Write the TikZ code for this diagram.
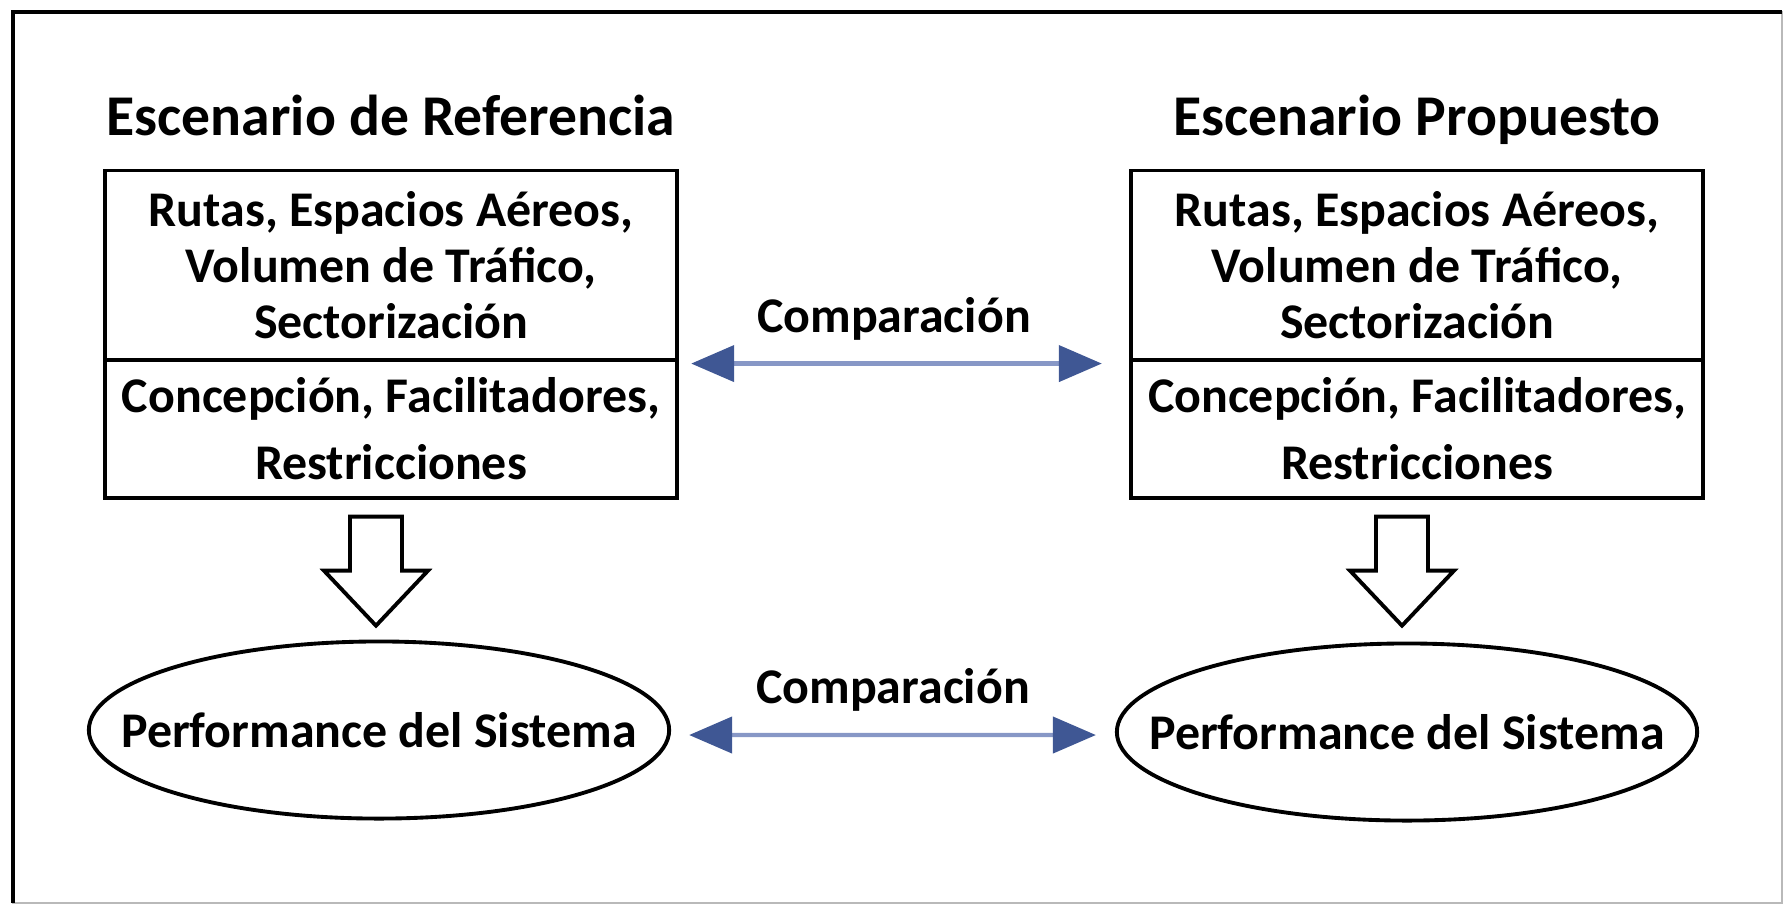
\documentclass[tikz,border=0pt]{standalone}
\usepackage{fontspec}
\setmainfont{Carlito}
\usetikzlibrary{positioning,shapes.geometric,arrows.meta}
\definecolor{cmpblue}{HTML}{3F5794}
\definecolor{cmpline}{HTML}{8797C6}

\begin{document}
\begin{tikzpicture}[x=0.01cm,y=-0.01cm,
	txt/.style={font=\bfseries\fontsize{14.2}{16}\selectfont},
	head/.style={font=\bfseries\fontsize{16.4}{19}\selectfont,anchor=base},
	part/.style={draw,line width=1.1pt,outer sep=0pt,minimum width=5.72cm,align=center,txt},
	perf/.style={draw,ellipse,line width=1.1pt,inner xsep=-1cm,inner ysep=0pt,minimum width=5.8cm,minimum height=1.77cm,txt},
	blk/.style={draw,line width=1.1pt,fill=white,line join=miter},
	cmp/.style={draw=cmpline,line width=1.2pt,
		{Triangle[length=0.43cm,width=0.36cm,color=cmpblue]}-{Triangle[length=0.43cm,width=0.36cm,color=cmpblue]}}]
	\useasboundingbox (0,0) rectangle (1786,905);
	% frame
	\coordinate (tl) at (13,12);
	\coordinate (br) at (1782,903);
	\draw[gray!55,line width=0.4pt] (tl) rectangle (br);
	\draw[line width=0.9pt] (tl |- br) -- (tl) -- (tl -| br);

	% reference scenario
	\node[part,minimum height=1.89cm] (refrutas) at (391,265) {Rutas, Espacios Aéreos,\\Volumen de Tráfico,\\Sectorización};
	\node[part,minimum height=1.38cm,font=\bfseries\fontsize{14.2}{19}\selectfont,below=0pt of refrutas] (refconc) {Concepción, Facilitadores,\\Restricciones};
	\node[head] (refhead) at ([yshift=0.35cm]refrutas.north) {Escenario de Referencia};
	\node[perf] (refperf) at (379,730) {Performance del Sistema};

	% proposed scenario
	\node[part,minimum height=1.89cm] (proprutas) at (1417,265) {Rutas, Espacios Aéreos,\\Volumen de Tráfico,\\Sectorización};
	\node[part,minimum height=1.38cm,font=\bfseries\fontsize{14.2}{19}\selectfont,below=0pt of proprutas] (propconc) {Concepción, Facilitadores,\\Restricciones};
	\node[head] (prophead) at ([yshift=0.35cm]proprutas.north) {Escenario Propuesto};
	\node[perf] (propperf) at (1407,732) {Performance del Sistema};

	% block arrows
	\draw[blk] ([xshift=-0.15cm,yshift=-0.19cm]refconc.south) ++(-26,0) -- ++(52,0) -- ++(0,54) -- ++(26,0)
		-- ++(-52,55) -- ++(-52,-55) -- ++(26,0) -- cycle;
	\draw[blk] ([xshift=-0.15cm,yshift=-0.19cm]propconc.south) ++(-26,0) -- ++(52,0) -- ++(0,54) -- ++(26,0)
		-- ++(-52,55) -- ++(-52,-55) -- ++(26,0) -- cycle;

	% comparisons
	\draw[cmp,shorten <=0.14cm,shorten >=0.29cm] ([yshift=-0.04cm]refrutas.south east) -- ([yshift=-0.04cm]proprutas.south west)
		node[midway,txt,anchor=base,xshift=-0.1cm,yshift=0.31cm] (cmptop) {Comparación};
	\draw[cmp,shorten <=0.18cm,shorten >=0.19cm] ([yshift=-0.05cm]refperf.east) -- ([yshift=-0.03cm]propperf.west)
		node[midway,txt,anchor=base,yshift=0.32cm] (cmpbot) {Comparación};
\end{tikzpicture}
\end{document}
